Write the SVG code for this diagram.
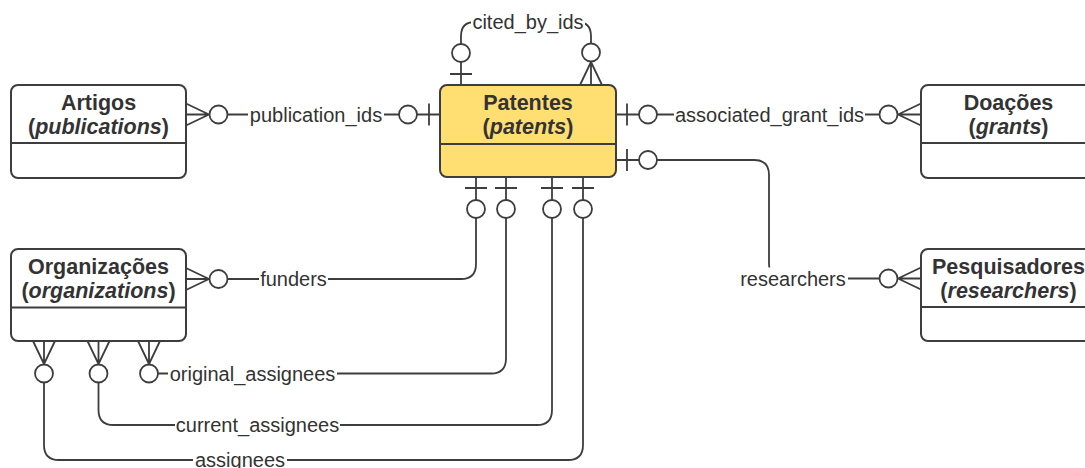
<svg xmlns="http://www.w3.org/2000/svg" width="1085" height="468" viewBox="0 0 1085 468">
  <style>
    .entity rect.box { fill: #ffffff; stroke: #3d3d3d; stroke-width: 2; }
    .entity.main rect.box { fill: #ffde72; }
    .entity line.div { stroke: #3d3d3d; stroke-width: 2; }
    .title { font-family: "Liberation Sans", Arial, sans-serif; font-size: 21.5px; font-weight: bold; fill: #333333; text-anchor: middle; }
    .title tspan.en { font-style: italic; }
    .conn path, .conn line, .end path { fill: none; stroke: #3d3d3d; stroke-width: 1.8; }
    .end circle { fill: #ffffff; stroke: #3d3d3d; stroke-width: 1.8; }
    .lbl rect { fill: #ffffff; }
    .lbl text { font-family: "Liberation Sans", Arial, sans-serif; font-size: 20px; fill: #333333; text-anchor: middle; }
  </style>
  <defs>
    <!-- zero-or-many end: crow's foot on the entity edge, circle beyond it -->
    <g id="zeroMany" class="end">
      <path d="M0,-11 L23,0 M0,0 H23 M0,11 L23,0"/>
      <circle cx="32.5" cy="0" r="9"/>
    </g>
    <!-- zero-or-one end: bar near the entity edge, circle beyond it -->
    <g id="zeroOne" class="end">
      <path d="M0,0 H23 M11,-11 V11"/>
      <circle cx="32" cy="0" r="9"/>
    </g>
  </defs>

  <!-- relationship lines -->
  <g id="connectors" class="conn">
    <path d="M227.5,114.5 H399"/>
    <path d="M657,114.5 H879.5"/>
    <path d="M657,160 H754 Q769,160 769,175 V263.5 Q769,278.5 784,278.5 H879.5"/>
    <path d="M461,44 V36 Q461,22 475,22 H577 Q591,22 591,36 V44"/>
    <path d="M476,218 V264 Q476,279 461,279 H227.5"/>
    <path d="M506,218 V358.5 Q506,373.5 491,373.5 H158"/>
    <path d="M552,218 V410 Q552,425 537,425 H113.5 Q98.5,425 98.5,410 V382.5"/>
    <path d="M583,218 V445 Q583,460 568,460 H59 Q44,460 44,445 V382.5"/>

    <!-- cardinality ends -->
    <use href="#zeroMany" transform="translate(186,114.5)"/>
    <use href="#zeroOne" transform="translate(440,114.5) scale(-1,1)"/>
    <use href="#zeroOne" transform="translate(616,114.5)"/>
    <use href="#zeroMany" transform="translate(921,114.5) scale(-1,1)"/>
    <use href="#zeroOne" transform="translate(616,160)"/>
    <use href="#zeroMany" transform="translate(921,278.5) scale(-1,1)"/>
    <use href="#zeroOne" transform="translate(461,85) rotate(-90)"/>
    <use href="#zeroMany" transform="translate(591,85) rotate(-90)"/>
    <use href="#zeroOne" transform="translate(476,177) rotate(90)"/>
    <use href="#zeroOne" transform="translate(506,177) rotate(90)"/>
    <use href="#zeroOne" transform="translate(552,177) rotate(90)"/>
    <use href="#zeroOne" transform="translate(583,177) rotate(90)"/>
    <use href="#zeroMany" transform="translate(186,279)"/>
    <use href="#zeroMany" transform="translate(44,341) rotate(90)"/>
    <use href="#zeroMany" transform="translate(98.5,341) rotate(90)"/>
    <use href="#zeroMany" transform="translate(149,341) rotate(90)"/>

    <!-- relationship labels -->
    <g class="lbl">
      <rect x="248" y="103.5" width="136" height="22"/>
      <text x="316" y="121.5">publication_ids</text>
      <rect x="674" y="103.5" width="191" height="22"/>
      <text x="769.5" y="121.5">associated_grant_ids</text>
      <rect x="738" y="267.5" width="110" height="22"/>
      <text x="793" y="285.5">researchers</text>
      <rect x="471" y="11" width="114" height="22"/>
      <text x="528" y="29">cited_by_ids</text>
      <rect x="259" y="268" width="69" height="22"/>
      <text x="293.5" y="286">funders</text>
      <rect x="168" y="362.5" width="169" height="22"/>
      <text x="252.5" y="380.5">original_assignees</text>
      <rect x="175" y="414" width="165" height="22"/>
      <text x="257.5" y="432">current_assignees</text>
      <rect x="193" y="449" width="94" height="22"/>
      <text x="240" y="467">assignees</text>
    </g>
  </g>

  <!-- entities -->
  <g id="artigos" class="entity">
    <rect class="box" x="11" y="85" width="175" height="93" rx="7"/>
    <line class="div" x1="11" y1="143" x2="186" y2="143"/>
    <text class="title" x="98.5" y="110">Artigos</text>
    <text class="title" x="98.5" y="134">(<tspan class="en">publications</tspan>)</text>
  </g>
  <g id="patentes" class="entity main">
    <rect class="box" x="440" y="85" width="176" height="92" rx="7"/>
    <line class="div" x1="440" y1="144" x2="616" y2="144"/>
    <text class="title" x="528" y="110">Patentes</text>
    <text class="title" x="528" y="134">(<tspan class="en">patents</tspan>)</text>
  </g>
  <g id="doacoes" class="entity">
    <rect class="box" x="921" y="85" width="175" height="93" rx="7"/>
    <line class="div" x1="921" y1="143" x2="1096" y2="143"/>
    <text class="title" x="1008.5" y="110">Doações</text>
    <text class="title" x="1008.5" y="134">(<tspan class="en">grants</tspan>)</text>
  </g>
  <g id="organizacoes" class="entity">
    <rect class="box" x="11" y="249" width="175" height="92" rx="7"/>
    <line class="div" x1="11" y1="307.5" x2="186" y2="307.5"/>
    <text class="title" x="98.5" y="274">Organizações</text>
    <text class="title" x="98.5" y="298">(<tspan class="en">organizations</tspan>)</text>
  </g>
  <g id="pesquisadores" class="entity">
    <rect class="box" x="921" y="249" width="175" height="92" rx="7"/>
    <line class="div" x1="921" y1="307" x2="1096" y2="307"/>
    <text class="title" x="1008.5" y="274">Pesquisadores</text>
    <text class="title" x="1008.5" y="298">(<tspan class="en">researchers</tspan>)</text>
  </g>
</svg>
